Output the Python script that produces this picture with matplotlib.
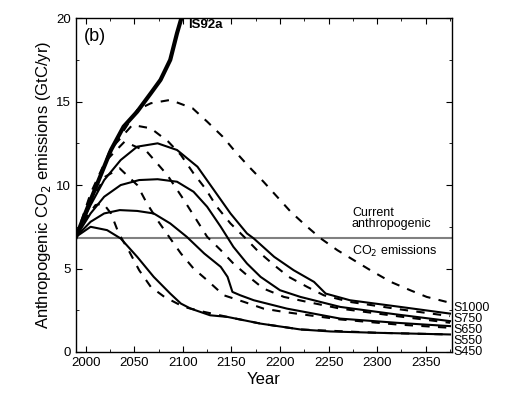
import numpy as np
import matplotlib
matplotlib.use("Agg")
import matplotlib.pyplot as plt

plt.rcParams['font.family'] = ['Liberation Sans', 'DejaVu Sans']

# IS92a business-as-usual
is92a_yr = [1990, 2005, 2019, 2026, 2039, 2053, 2067, 2077, 2087, 2094, 2100]
is92a_val = [6.9, 9.1, 11.1, 12.1, 13.5, 14.4, 15.5, 16.3, 17.5, 19.1, 20.3]

# solid profiles (WRE)
w450_yr = [1990, 2005, 2022, 2036, 2053, 2070, 2087, 2098, 2108, 2128, 2146, 2180, 2221, 2252, 2300, 2375]
w450_val = [6.9, 7.5, 7.3, 6.8, 5.7, 4.5, 3.5, 2.9, 2.6, 2.2, 2.1, 1.7, 1.35, 1.23, 1.15, 1.05]

w550_yr = [1990, 2005, 2019, 2035, 2053, 2070, 2087, 2104, 2122, 2139, 2146, 2151, 2159, 2173, 2207, 2262, 2320, 2375]
w550_val = [6.9, 7.8, 8.3, 8.5, 8.45, 8.3, 7.7, 6.9, 5.9, 5.1, 4.5, 3.6, 3.4, 3.1, 2.6, 2.0, 1.75, 1.55]

w650_yr = [1990, 2005, 2019, 2036, 2055, 2074, 2094, 2111, 2125, 2139, 2152, 2166, 2180, 2200, 2221, 2262, 2320, 2375]
w650_val = [6.9, 8.3, 9.3, 10.0, 10.3, 10.35, 10.2, 9.6, 8.7, 7.5, 6.3, 5.3, 4.5, 3.7, 3.3, 2.7, 2.25, 1.85]

w750_yr = [1990, 2005, 2019, 2036, 2053, 2074, 2094, 2115, 2132, 2149, 2166, 2173, 2194, 2214, 2235, 2247, 2272, 2324, 2375]
w750_val = [6.9, 8.8, 10.3, 11.5, 12.3, 12.5, 12.1, 11.1, 9.7, 8.3, 7.1, 6.8, 5.7, 4.9, 4.2, 3.5, 3.1, 2.7, 2.3]

# dashed profiles (S)
s450_yr = [1990, 2000, 2010, 2018, 2026, 2034, 2045, 2055, 2067, 2081, 2101, 2122, 2146, 2180, 2221, 2300, 2375]
s450_val = [6.9, 8.0, 8.8, 8.9, 8.3, 7.1, 6.0, 4.9, 3.9, 3.3, 2.7, 2.4, 2.1, 1.7, 1.35, 1.15, 1.05]

s550_yr = [1990, 2005, 2020, 2035, 2053, 2063, 2075, 2087, 2098, 2111, 2125, 2142, 2163, 2183, 2204, 2262, 2320, 2375]
s550_val = [6.9, 9.0, 10.5, 11.0, 10.0, 8.9, 7.8, 6.8, 5.9, 5.0, 4.3, 3.4, 3.0, 2.6, 2.4, 1.95, 1.65, 1.45]

s650_yr = [1990, 2005, 2020, 2040, 2063, 2084, 2100, 2112, 2125, 2139, 2152, 2168, 2183, 2204, 2228, 2262, 2320, 2375]
s650_val = [6.9, 9.5, 11.4, 12.6, 12.0, 10.6, 9.2, 8.1, 6.9, 6.1, 5.3, 4.5, 3.8, 3.3, 3.0, 2.6, 2.15, 1.75]

s750_yr = [1990, 2005, 2025, 2048, 2067, 2085, 2098, 2111, 2123, 2135, 2149, 2163, 2178, 2194, 2209, 2228, 2245, 2272, 2324, 2375]
s750_val = [6.9, 9.1, 12.1, 13.6, 13.4, 12.6, 11.8, 10.7, 9.8, 8.7, 7.7, 6.9, 6.0, 5.2, 4.5, 3.9, 3.4, 3.0, 2.55, 2.15]

s1000_yr = [1990, 2005, 2026, 2053, 2067, 2087, 2110, 2125, 2141, 2154, 2168, 2183, 2197, 2211, 2226, 2242, 2259, 2276, 2293, 2314, 2334, 2351, 2375]
s1000_val = [6.9, 9.1, 12.1, 14.5, 14.9, 15.1, 14.6, 13.8, 12.9, 12.0, 11.1, 10.2, 9.3, 8.4, 7.6, 6.8, 6.1, 5.5, 4.9, 4.2, 3.7, 3.3, 2.95]

current = 6.85
end_labels = ["S1000", "S750", "S650", "S550", "S450"]

fig = plt.figure(figsize=(5.05, 3.94), dpi=100)
ax = fig.add_axes([0.1505, 0.1066, 0.7445, 0.8474])

ax.axhline(current, color='#808080', linewidth=1.5)

for yr, val in [(w450_yr, w450_val), (w550_yr, w550_val),
                (w650_yr, w650_val), (w750_yr, w750_val)]:
    ax.plot(yr, val, color='black', linewidth=1.5)

for yr, val in [(s450_yr, s450_val), (s550_yr, s550_val), (s650_yr, s650_val),
                (s750_yr, s750_val), (s1000_yr, s1000_val)]:
    ax.plot(yr, val, color='black', linewidth=1.5, dashes=(4, 4))

ax.plot(is92a_yr, is92a_val, color='black', linewidth=3)

ax.set_xlim(1990, 2377)
ax.set_ylim(0, 20)
ax.set_xticks(np.arange(2000, 2351, 50))
ax.set_xticks(np.arange(2000, 2376, 25), minor=True)
ax.set_yticks(np.arange(0, 21, 5))
ax.set_yticks(np.arange(0, 20.1, 2.5), minor=True)
ax.tick_params(which='both', direction='in', top=True, right=True, labelsize=9.5)
ax.tick_params(which='major', length=4)
ax.tick_params(which='minor', length=2.5)
for s in ax.spines.values():
    s.set_linewidth(1.0)

ax.set_xlabel("Year", fontsize=12, labelpad=2)
ax.set_ylabel("Anthropogenic CO$_2$ emissions (GtC/yr)", fontsize=12, labelpad=2)

ax.text(1998, 18.9, "(b)", fontsize=13, va='center', ha='left')
ax.text(2105, 19.6, "IS92a", fontsize=9.5, fontweight='bold', va='center', ha='left')
ax.text(2274, 7.3, "Current\nanthropogenic", fontsize=9, va='bottom', ha='left',
        linespacing=0.9)
ax.text(2274, 6.45, "CO$_2$ emissions", fontsize=9, va='top', ha='left')

for i, lab in enumerate(end_labels):
    ax.text(1.003, 0.132 - i * 0.033, lab, transform=ax.transAxes, fontsize=9,
            va='center', ha='left', clip_on=False)

fig.savefig("out.png", dpi=100)
